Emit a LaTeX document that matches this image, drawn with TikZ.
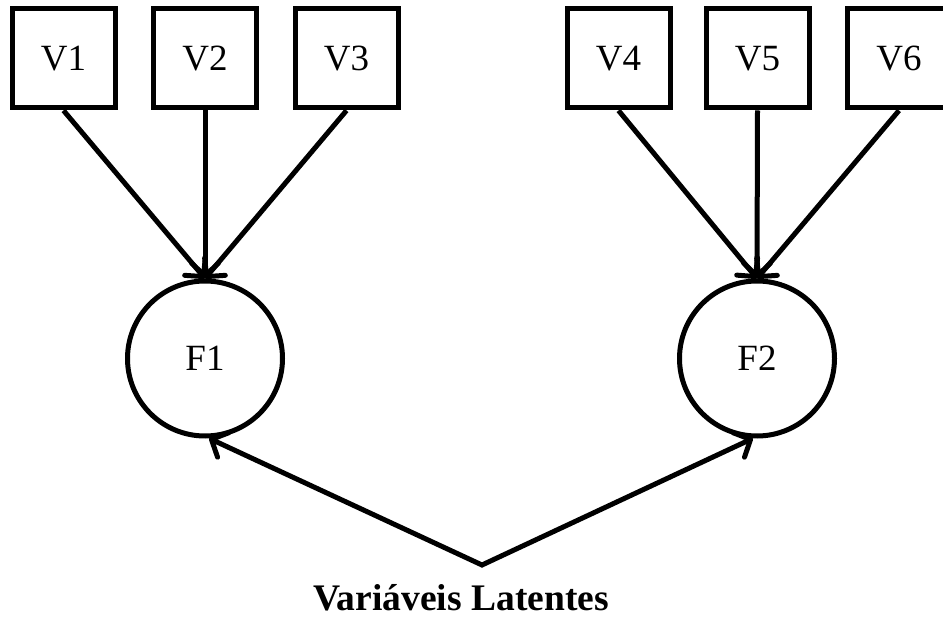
\documentclass[tikz,border=0pt]{standalone}
\usepackage{fontspec}
\setmainfont{Liberation Serif}
\usetikzlibrary{arrows.meta}
\tikzset{
  barbtip/.tip={Straight Barb[length=13pt,width=27pt,round]}
}
\begin{document}
\begin{tikzpicture}[x=1pt,y=-1pt,
  obsbox/.style={draw,line width=5pt,minimum width=103pt,minimum height=99pt,inner sep=0pt,font=\fontsize{37}{40}\selectfont},
  latent/.style={draw,circle,line width=5pt,minimum size=155pt,inner sep=0pt,font=\fontsize{37}{40}\selectfont},
  conn/.style={line width=5pt,-barbtip},
  conn2/.style={line width=5pt,barbtip-barbtip,line join=miter}
]
\useasboundingbox (0,0) rectangle (943,617);
\node[obsbox] (V1) at (63.5,58.5) {V1};
\node[obsbox] (V2) at (205,58.5) {V2};
\node[obsbox] (V3) at (346.5,58.5) {V3};
\node[obsbox] (V4) at (618.5,58.5) {V4};
\node[obsbox] (V5) at (757.5,58.5) {V5};
\node[obsbox] (V6) at (899,58.5) {V6};
\node[latent] (F1) at (205,358.5) {F1};
\node[latent] (F2) at (757,358.5) {F2};
\coordinate (apex) at (482,565);
\node[anchor=base,font=\fontsize{37.5}{40}\selectfont\bfseries] (lbl) at (461,610) {Variáveis Latentes};
\draw[conn] (V1.south) -- (F1.north);
\draw[conn] (V2.south) -- (F1.north);
\draw[conn] (V3.south) -- (F1.north);
\draw[conn] (V4.south) -- (F2.north);
\draw[conn] (V5.south) -- (F2.north);
\draw[conn] (V6.south) -- (F2.north);
\draw[conn2] (F1.-87) -- (apex) -- (F2.-93);
\end{tikzpicture}
\end{document}
